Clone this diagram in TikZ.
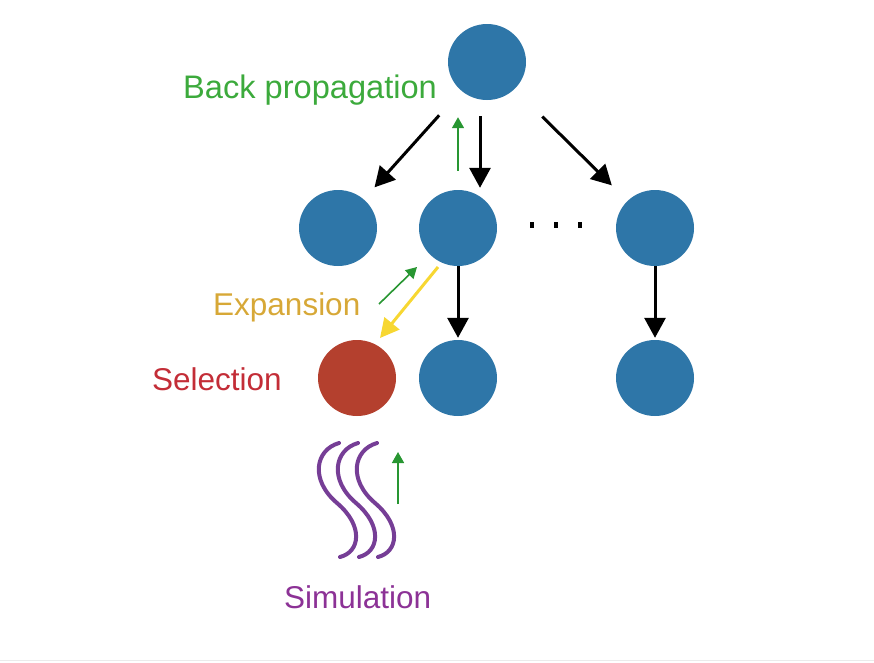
\documentclass[tikz,border=0pt]{standalone}
\usepackage{fontspec}
\setmainfont{Liberation Sans}
\usetikzlibrary{shapes.geometric,arrows.meta,calc}
\definecolor{nodeblue}{RGB}{46,118,168}
\definecolor{nodered}{RGB}{180,64,46}
\definecolor{arrgreen}{RGB}{40,150,50}
\definecolor{arryellow}{RGB}{247,215,50}
\definecolor{wavepurple}{RGB}{118,62,150}
\definecolor{backgreen}{RGB}{60,170,60}
\definecolor{expgold}{RGB}{215,168,55}
\definecolor{selred}{RGB}{195,45,55}
\definecolor{simpurple}{RGB}{140,50,150}
\def\Wave#1{\draw[wave] ($(sel)+(#1-18,65)$) .. controls +(-24,7) and +(-27,-23) .. ++(-2,60) .. controls +(27,23) and +(20,-5) .. ++(3,54);}

\begin{document}
\begin{tikzpicture}[x=1pt,y=-1pt,
  state/.style={ellipse,fill=nodeblue,minimum width=78pt,minimum height=76pt,inner sep=0pt},
  tree/.style={line width=3pt,-{Triangle[length=20pt,width=21pt]}},
  back/.style={arrgreen,line width=1.6pt,-{Triangle[length=11pt,width=12pt]}},
  wave/.style={wavepurple,line width=4pt,line cap=round},
  lbl/.style={anchor=base west,inner sep=0pt,font=\fontsize{31.5}{36}\selectfont}]
\useasboundingbox (0,0) rectangle (874,662);
\draw[black!8,line width=1pt] (0,660.5) -- (874,660.5);
% tree
\node[state] (root) at (487,62) {};
\node[state] (A) at (338,228) {};
\node[state] (B) at (458,228) {};
\node[state] (C) at (655,228) {};
\node[state,fill=nodered] (sel) at (357,378) {};
\node[state] (D) at (458,378) {};
\node[state] (E) at (655,378) {};
\foreach \x in {532,556,580} \fill (\x-2,222) rectangle +(4,6);
\draw[tree,shorten <=33pt,shorten >=16pt] (root) -- (A);
\draw[tree,shorten <=16pt,shorten >=2pt] ([xshift=-7pt]root.south) -- ([xshift=22pt]B.north);
\draw[tree,shorten <=39pt,shorten >=22pt] (root) -- (C);
\draw[tree,shorten >=2pt] (B) -- (D);
\draw[tree,shorten >=2pt] (C) -- (E);
% the four steps
\draw[back,shorten <=19pt,shorten >=17pt] (B.north) -- ([xshift=-29pt]root.south);
\draw[arryellow,line width=3pt,-{Triangle[length=19pt,width=19pt]}]
  ($(B)+(-20,39)$) -- ($(sel)+(23,-40)$);
\draw[back] ($(sel)+(22,-74)$) -- ($(B)+(-41,39)$);
\draw[back] ($(sel)+(41,126)$) -- ($(sel)+(41,74)$);
\Wave{0} \Wave{19} \Wave{38}
\node[lbl,text=backgreen,font=\fontsize{32.6}{36}\selectfont] (lback) at (183,98) {Back propagation};
\node[lbl,text=expgold] (lexp) at (213,315) {Expansion};
\node[lbl,text=selred] (lsel) at (152,390) {Selection};
\node[lbl,text=simpurple] (lsim) at (284,608) {Simulation};
\end{tikzpicture}
\end{document}
